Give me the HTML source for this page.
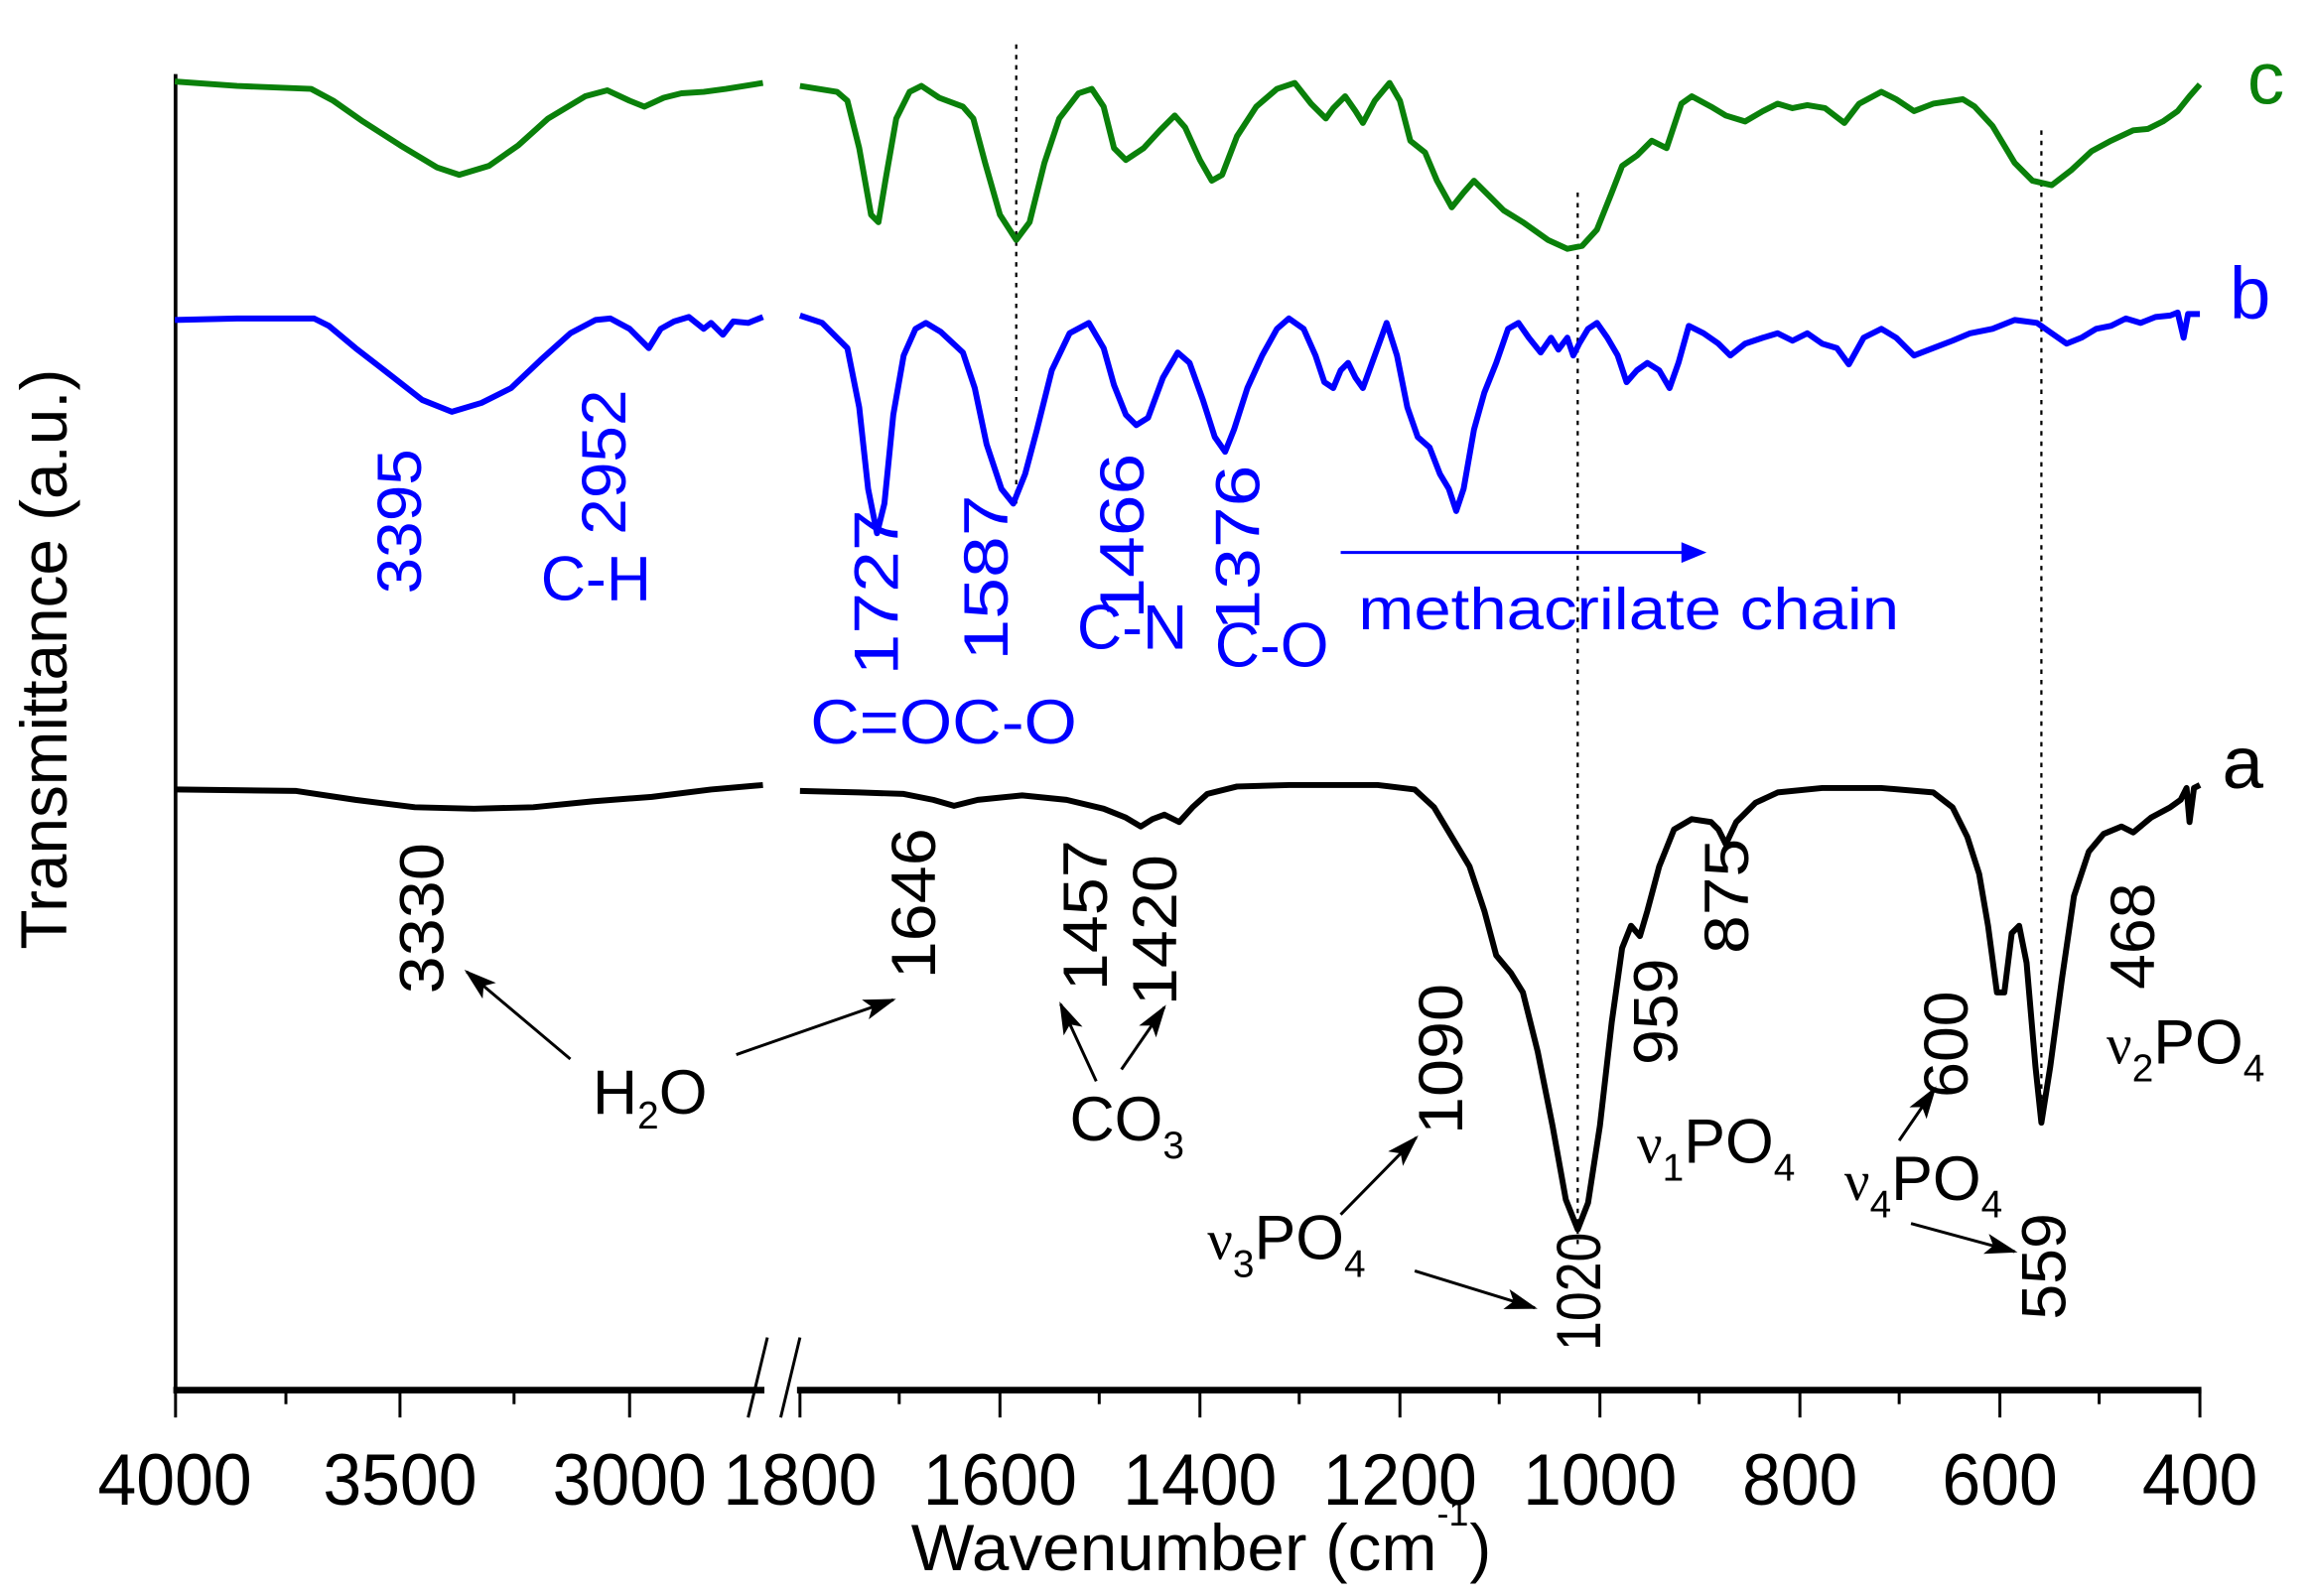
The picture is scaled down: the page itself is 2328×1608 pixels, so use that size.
<!DOCTYPE html>
<html><head><meta charset="utf-8"><style>
html,body{margin:0;padding:0;background:#fff;}
svg{display:block;}
text{font-family:"Liberation Sans",Arial,sans-serif;}
</style></head><body>
<svg width="2328" height="1608" viewBox="0 0 1560 1077.5" xmlns="http://www.w3.org/2000/svg">
<defs>
<marker id="ak" markerWidth="22" markerHeight="16" refX="20" refY="8" orient="auto" markerUnits="userSpaceOnUse" viewBox="0 0 22 16"><path d="M0,1 L22,8 L0,15 L5,8 z" fill="#000"/></marker>
</defs>
<!-- axes -->
<line x1="118.5" y1="50" x2="118.5" y2="940" stroke="#000" stroke-width="2.5"/>
<line x1="117" y1="938.5" x2="1486" y2="938.5" stroke="#000" stroke-width="4.5"/>
<g stroke="#000" stroke-width="2">
<line x1="118.5" y1="938" x2="118.5" y2="957"/><line x1="193" y1="938" x2="193" y2="948"/>
<line x1="270" y1="938" x2="270" y2="957"/><line x1="347" y1="938" x2="347" y2="948"/>
<line x1="425" y1="938" x2="425" y2="957"/>
<line x1="540" y1="938" x2="540" y2="957"/><line x1="607" y1="938" x2="607" y2="948"/>
<line x1="675" y1="938" x2="675" y2="957"/><line x1="742" y1="938" x2="742" y2="948"/>
<line x1="810" y1="938" x2="810" y2="957"/><line x1="877" y1="938" x2="877" y2="948"/>
<line x1="945" y1="938" x2="945" y2="957"/><line x1="1012" y1="938" x2="1012" y2="948"/>
<line x1="1080" y1="938" x2="1080" y2="957"/><line x1="1147" y1="938" x2="1147" y2="948"/>
<line x1="1215" y1="938" x2="1215" y2="957"/><line x1="1282" y1="938" x2="1282" y2="948"/>
<line x1="1350" y1="938" x2="1350" y2="957"/><line x1="1417" y1="938" x2="1417" y2="948"/>
<line x1="1485" y1="938" x2="1485" y2="957"/>
</g>
<!-- axis break -->
<rect x="516" y="930" width="22" height="20" fill="#fff"/>
<line x1="505" y1="957" x2="518" y2="903" stroke="#000" stroke-width="2"/>
<line x1="527" y1="957" x2="540" y2="903" stroke="#000" stroke-width="2"/>
<g font-size="49" text-anchor="middle" fill="#000">
<text x="118" y="1016" textLength="104" lengthAdjust="spacingAndGlyphs">4000</text>
<text x="270" y="1016" textLength="104" lengthAdjust="spacingAndGlyphs">3500</text>
<text x="425" y="1016" textLength="104" lengthAdjust="spacingAndGlyphs">3000</text>
<text x="540" y="1016" textLength="104" lengthAdjust="spacingAndGlyphs">1800</text>
<text x="675" y="1016" textLength="104" lengthAdjust="spacingAndGlyphs">1600</text>
<text x="810" y="1016" textLength="104" lengthAdjust="spacingAndGlyphs">1400</text>
<text x="945" y="1016" textLength="104" lengthAdjust="spacingAndGlyphs">1200</text>
<text x="1080" y="1016" textLength="104" lengthAdjust="spacingAndGlyphs">1000</text>
<text x="1215" y="1016" textLength="78" lengthAdjust="spacingAndGlyphs">800</text>
<text x="1350" y="1016" textLength="78" lengthAdjust="spacingAndGlyphs">600</text>
<text x="1485" y="1016" textLength="78" lengthAdjust="spacingAndGlyphs">400</text>
</g>
<text x="615" y="1060" font-size="44" textLength="355" lengthAdjust="spacingAndGlyphs">Wavenumber (cm</text>
<text x="970" y="1030" font-size="24">-1</text>
<text x="992" y="1060" font-size="44">)</text>
<text transform="translate(45,445) rotate(-90)" text-anchor="middle" font-size="44">Transmittance (a.u.)</text>

<!-- dotted lines -->
<g stroke="#000" stroke-width="1.5" stroke-dasharray="3,4">
<line x1="686" y1="30" x2="686" y2="340"/>
<line x1="1065" y1="130" x2="1065" y2="840"/>
<line x1="1378" y1="88" x2="1378" y2="760"/>
</g>

<!-- curve c -->
<g fill="none" stroke="#0a800a" stroke-width="4" stroke-linejoin="round">
<path d="M118,55 L160,58 L210,60 L225,68 L245,82 L270,98 L295,113 L310,118 L330,112 L350,98 L370,80 L395,65 L410,61 L425,68 L435,72 L448,66 L460,63 L475,62 L490,60 L515,56"/>
<path d="M540,58 L565,62 L572,68 L580,100 L588,145 L593,150 L598,120 L605,80 L614,62 L622,58 L634,66 L650,72 L657,80 L665,110 L675,145 L686,162 L695,150 L705,110 L715,80 L728,63 L737,60 L745,72 L752,100 L760,108 L772,100 L783,88 L793,78 L800,86 L810,108 L818,122 L825,118 L835,92 L848,72 L862,60 L874,56 L885,70 L895,80 L900,73 L908,65 L915,75 L920,83 L928,68 L938,56 L945,68 L952,95 L962,103 L970,122 L980,140 L988,130 L995,122 L1005,132 L1015,142 L1028,150 L1045,162 L1058,168 L1068,166 L1078,155 L1088,130 L1095,112 L1105,105 L1115,95 L1125,100 L1135,70 L1142,65 L1155,72 L1165,78 L1178,82 L1190,75 L1200,70 L1210,73 L1220,71 L1232,73 L1245,83 L1255,70 L1270,62 L1280,67 L1292,75 L1305,70 L1325,67 L1333,72 L1345,85 L1360,110 L1372,122 L1385,125 L1398,115 L1412,102 L1425,95 L1440,88 L1450,87 L1460,82 L1470,75 L1478,65 L1485,57"/>
</g>
<!-- curve b -->
<g fill="none" stroke="#0000ff" stroke-width="4" stroke-linejoin="round">
<path d="M118,216 L160,215 L212,215 L222,220 L240,235 L262,252 L285,270 L305,278 L325,272 L345,262 L365,243 L385,225 L402,216 L412,215 L425,222 L438,235 L446,222 L455,217 L465,214 L475,222 L480,218 L488,226 L495,217 L505,218 L515,214"/>
<path d="M540,213 L555,218 L572,235 L580,275 L586,330 L592,360 L597,340 L603,280 L610,240 L618,222 L625,218 L635,224 L650,238 L658,262 L666,300 L676,330 L684,340 L692,320 L700,290 L710,250 L722,225 L735,218 L745,235 L752,260 L760,280 L767,287 L775,282 L785,255 L795,238 L803,245 L812,270 L820,295 L827,305 L833,290 L842,262 L852,240 L862,222 L870,215 L880,222 L888,240 L894,258 L900,262 L905,250 L910,245 L915,255 L920,262 L928,240 L936,218 L943,240 L950,275 L957,295 L965,302 L972,320 L978,330 L983,345 L988,330 L995,290 L1002,265 L1010,245 L1018,222 L1025,218 L1032,228 L1040,238 L1047,228 L1052,236 L1058,228 L1062,240 L1066,232 L1072,222 L1078,218 L1085,228 L1092,240 L1098,258 L1105,250 L1112,245 L1120,250 L1127,262 L1133,245 L1140,220 L1150,225 L1160,232 L1168,240 L1178,232 L1190,228 L1200,225 L1210,230 L1220,225 L1230,232 L1240,235 L1248,246 L1258,228 L1270,222 L1280,228 L1292,240 L1305,235 L1318,230 L1330,225 L1345,222 L1360,216 L1375,218 L1385,225 L1395,232 L1405,228 L1415,222 L1425,220 L1435,215 L1445,218 L1455,214 L1465,213 L1470,211 L1474,228 L1477,212 L1485,212"/>
</g>
<!-- curve a -->
<g fill="none" stroke="#000" stroke-width="4" stroke-linejoin="round">
<path d="M118,533 L200,534 L240,540 L280,545 L320,546 L360,545 L400,541 L440,538 L480,533 L515,530"/>
<path d="M540,534 L580,535 L610,536 L630,540 L644,544 L660,540 L690,537 L720,540 L745,546 L760,552 L770,558 L778,553 L786,550 L796,555 L805,545 L815,536 L835,531 L870,530 L930,530 L955,533 L968,545 L980,565 L992,585 L1002,615 L1010,645 L1020,657 L1028,670 L1038,710 L1048,760 L1057,810 L1065,830 L1072,812 L1080,760 L1088,690 L1095,640 L1101,625 L1107,632 L1112,615 L1120,585 L1130,560 L1142,553 L1155,555 L1160,560 L1165,570 L1172,555 L1185,542 L1200,535 L1230,532 L1270,532 L1305,535 L1318,545 L1328,565 L1336,590 L1342,625 L1348,670 L1353,670 L1358,630 L1363,625 L1368,650 L1374,720 L1378,758 L1384,720 L1392,660 L1400,605 L1410,575 L1420,563 L1432,558 L1440,562 L1452,552 L1465,545 L1472,540 L1476,532 L1478,555 L1481,532 L1485,530"/>
</g>
<!-- series letters -->
<text x="1517" y="70" font-size="50" fill="#0a800a">c</text>
<text x="1505" y="215" font-size="50" fill="#0000ff">b</text>
<text x="1500" y="532" font-size="50" fill="#000">a</text>

<!-- blue labels -->
<g fill="#0000ff" font-size="42">
<text transform="translate(270,352) rotate(-90)" text-anchor="middle" dominant-baseline="central" textLength="98" lengthAdjust="spacingAndGlyphs">3395</text>
<text transform="translate(408,312) rotate(-90)" text-anchor="middle" dominant-baseline="central" textLength="98" lengthAdjust="spacingAndGlyphs">2952</text>
<text x="365" y="405" font-size="42">C-H</text>
<text transform="translate(592,400) rotate(-90)" text-anchor="middle" dominant-baseline="central" textLength="112" lengthAdjust="spacingAndGlyphs">1727</text>
<text transform="translate(666,390) rotate(-90)" text-anchor="middle" dominant-baseline="central" textLength="112" lengthAdjust="spacingAndGlyphs">1587</text>
<text x="547" y="502" font-size="42" textLength="180" lengthAdjust="spacingAndGlyphs">C=OC-O</text>
<text transform="translate(758,362) rotate(-90)" text-anchor="middle" dominant-baseline="central" textLength="112" lengthAdjust="spacingAndGlyphs">1466</text>
<text x="727" y="438" font-size="42">C-N</text>
<text transform="translate(836,370) rotate(-90)" text-anchor="middle" dominant-baseline="central" textLength="112" lengthAdjust="spacingAndGlyphs">1376</text>
<text x="820" y="450" font-size="42">C-O</text>
<text x="917" y="425" font-size="40" textLength="365" lengthAdjust="spacingAndGlyphs">methacrilate chain</text>
</g>
<line x1="905" y1="373" x2="1138" y2="373" stroke="#00f" stroke-width="2"/>
<path d="M1135,366 L1152,373 L1135,380 z" fill="#00f"/>

<!-- black labels -->
<g fill="#000" font-size="42">
<text transform="translate(285,620) rotate(-90)" text-anchor="middle" dominant-baseline="central" textLength="102" lengthAdjust="spacingAndGlyphs">3330</text>
<text transform="translate(617,610) rotate(-90)" text-anchor="middle" dominant-baseline="central" textLength="102" lengthAdjust="spacingAndGlyphs">1646</text>
<text transform="translate(733,618) rotate(-90)" text-anchor="middle" dominant-baseline="central" textLength="102" lengthAdjust="spacingAndGlyphs">1457</text>
<text transform="translate(780,628) rotate(-90)" text-anchor="middle" dominant-baseline="central" textLength="102" lengthAdjust="spacingAndGlyphs">1420</text>
<text transform="translate(1166,605) rotate(-90)" text-anchor="middle" dominant-baseline="central" textLength="78" lengthAdjust="spacingAndGlyphs">875</text>
<text transform="translate(1118,683) rotate(-90)" text-anchor="middle" dominant-baseline="central" textLength="72" lengthAdjust="spacingAndGlyphs">959</text>
<text transform="translate(973,715) rotate(-90)" text-anchor="middle" dominant-baseline="central" textLength="102" lengthAdjust="spacingAndGlyphs">1090</text>
<text transform="translate(1066,872) rotate(-90)" text-anchor="middle" dominant-baseline="central" textLength="80" lengthAdjust="spacingAndGlyphs">1020</text>
<text transform="translate(1314,705) rotate(-90)" text-anchor="middle" dominant-baseline="central" textLength="72" lengthAdjust="spacingAndGlyphs">600</text>
<text transform="translate(1380,855) rotate(-90)" text-anchor="middle" dominant-baseline="central" textLength="72" lengthAdjust="spacingAndGlyphs">559</text>
<text transform="translate(1440,632) rotate(-90)" text-anchor="middle" dominant-baseline="central" textLength="72" lengthAdjust="spacingAndGlyphs">468</text>
<text x="400" y="752" font-size="42">H<tspan font-size="26" dy="10">2</tspan><tspan dy="-10">O</tspan></text>
<text x="722" y="770" font-size="42">CO<tspan font-size="26" dy="12">3</tspan></text>
<text x="815" y="850" font-size="42"><tspan font-family="Liberation Serif" font-size="38">ν</tspan><tspan font-size="26" dy="12">3</tspan><tspan dy="-12">PO</tspan><tspan font-size="26" dy="12">4</tspan></text>
<text x="1105" y="785" font-size="42"><tspan font-family="Liberation Serif" font-size="38">ν</tspan><tspan font-size="26" dy="12">1</tspan><tspan dy="-12">PO</tspan><tspan font-size="26" dy="12">4</tspan></text>
<text x="1245" y="810" font-size="42"><tspan font-family="Liberation Serif" font-size="38">ν</tspan><tspan font-size="26" dy="12">4</tspan><tspan dy="-12">PO</tspan><tspan font-size="26" dy="12">4</tspan></text>
<text x="1422" y="718" font-size="42"><tspan font-family="Liberation Serif" font-size="38">ν</tspan><tspan font-size="26" dy="12">2</tspan><tspan dy="-12">PO</tspan><tspan font-size="26" dy="12">4</tspan></text>
</g>
<g stroke="#000" stroke-width="2" marker-end="url(#ak)">
<line x1="385" y1="715" x2="315" y2="656"/>
<line x1="497" y1="712" x2="603" y2="675"/>
<line x1="740" y1="730" x2="716" y2="678"/>
<line x1="757" y1="722" x2="786" y2="680"/>
<line x1="905" y1="820" x2="956" y2="768"/>
<line x1="955" y1="858" x2="1036" y2="883"/>
<line x1="1282" y1="770" x2="1306" y2="735"/>
<line x1="1290" y1="826" x2="1360" y2="845"/>
</g>
</svg>
</body></html>
